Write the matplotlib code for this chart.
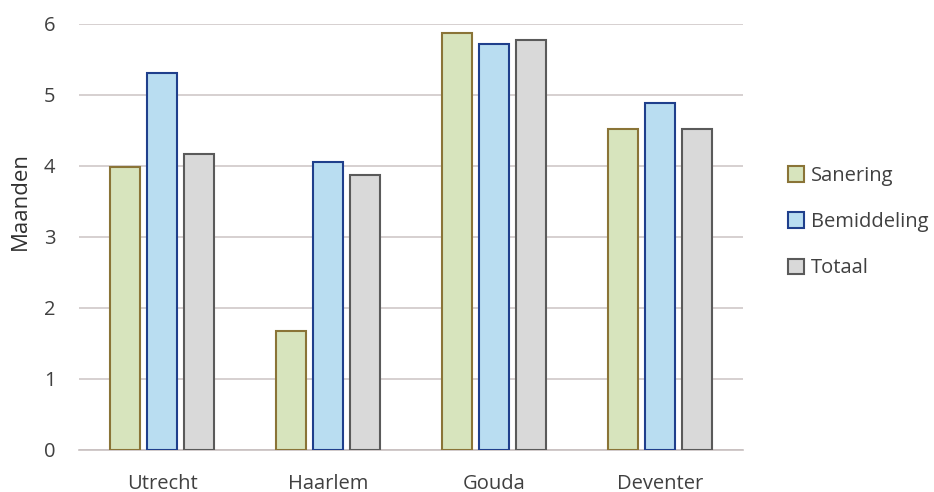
import matplotlib
matplotlib.use("Agg")
import matplotlib.pyplot as plt
import numpy as np

CITIES = ["Utrecht", "Haarlem", "Gouda", "Deventer"]
SANERING = [3.98, 1.67, 5.87, 4.52]
BEMIDDELING = [5.31, 4.06, 5.72, 4.88]
TOTAAL = [4.17, 3.87, 5.78, 4.52]

SERIES = [
    ("Sanering", SANERING, "#d7e4bd", "#8a7437"),
    ("Bemiddeling", BEMIDDELING, "#b9ddf1", "#1f3f8c"),
    ("Totaal", TOTAAL, "#d9d9d9", "#5a5a5a"),
]

plt.rcParams.update({
    "font.family": ["Open Sans", "DejaVu Sans"],
    "font.size": 11,
    "text.color": "#404040",
})

fig = plt.figure(figsize=(9.34, 4.92), dpi=100)
ax = fig.add_axes([0.0846, 0.0854, 0.711, 0.866])

x = np.arange(len(CITIES))
pitch = 0.223
width = 0.18
for i, (label, vals, fill, edge) in enumerate(SERIES):
    ax.bar(x + (i - 1) * pitch, vals, width, color=fill, edgecolor=edge,
           linewidth=1.5, label=label, zorder=3)

ax.set_xlim(-0.5, len(CITIES) - 0.5)
ax.set_ylim(0, 6)
ax.set_yticks(range(7))
ax.set_xticks(x)
ax.set_xticklabels(CITIES)
ax.grid(axis="y", color="#cfc8c8", linewidth=1.2, zorder=0)
ax.set_axisbelow(True)
for side in ("top", "right", "left"):
    ax.spines[side].set_visible(False)
ax.spines["bottom"].set_color("#c8c0c0")
ax.spines["bottom"].set_linewidth(1.2)
ax.tick_params(axis="both", length=0, labelsize=14.5, labelcolor="#404040")
ax.tick_params(axis="y", pad=17)
ax.tick_params(axis="x", pad=17)
ax.set_ylabel("Maanden", fontsize=16, color="#303030")
ax.yaxis.set_label_coords(-0.072, 0.585)

ax.legend(loc="center left", bbox_to_anchor=(1.055, 0.535), frameon=False,
          fontsize=14.5, handlelength=0.8, handleheight=0.8,
          handletextpad=0.35, labelspacing=1.3, borderaxespad=0)

fig.savefig("out.png", dpi=100)
